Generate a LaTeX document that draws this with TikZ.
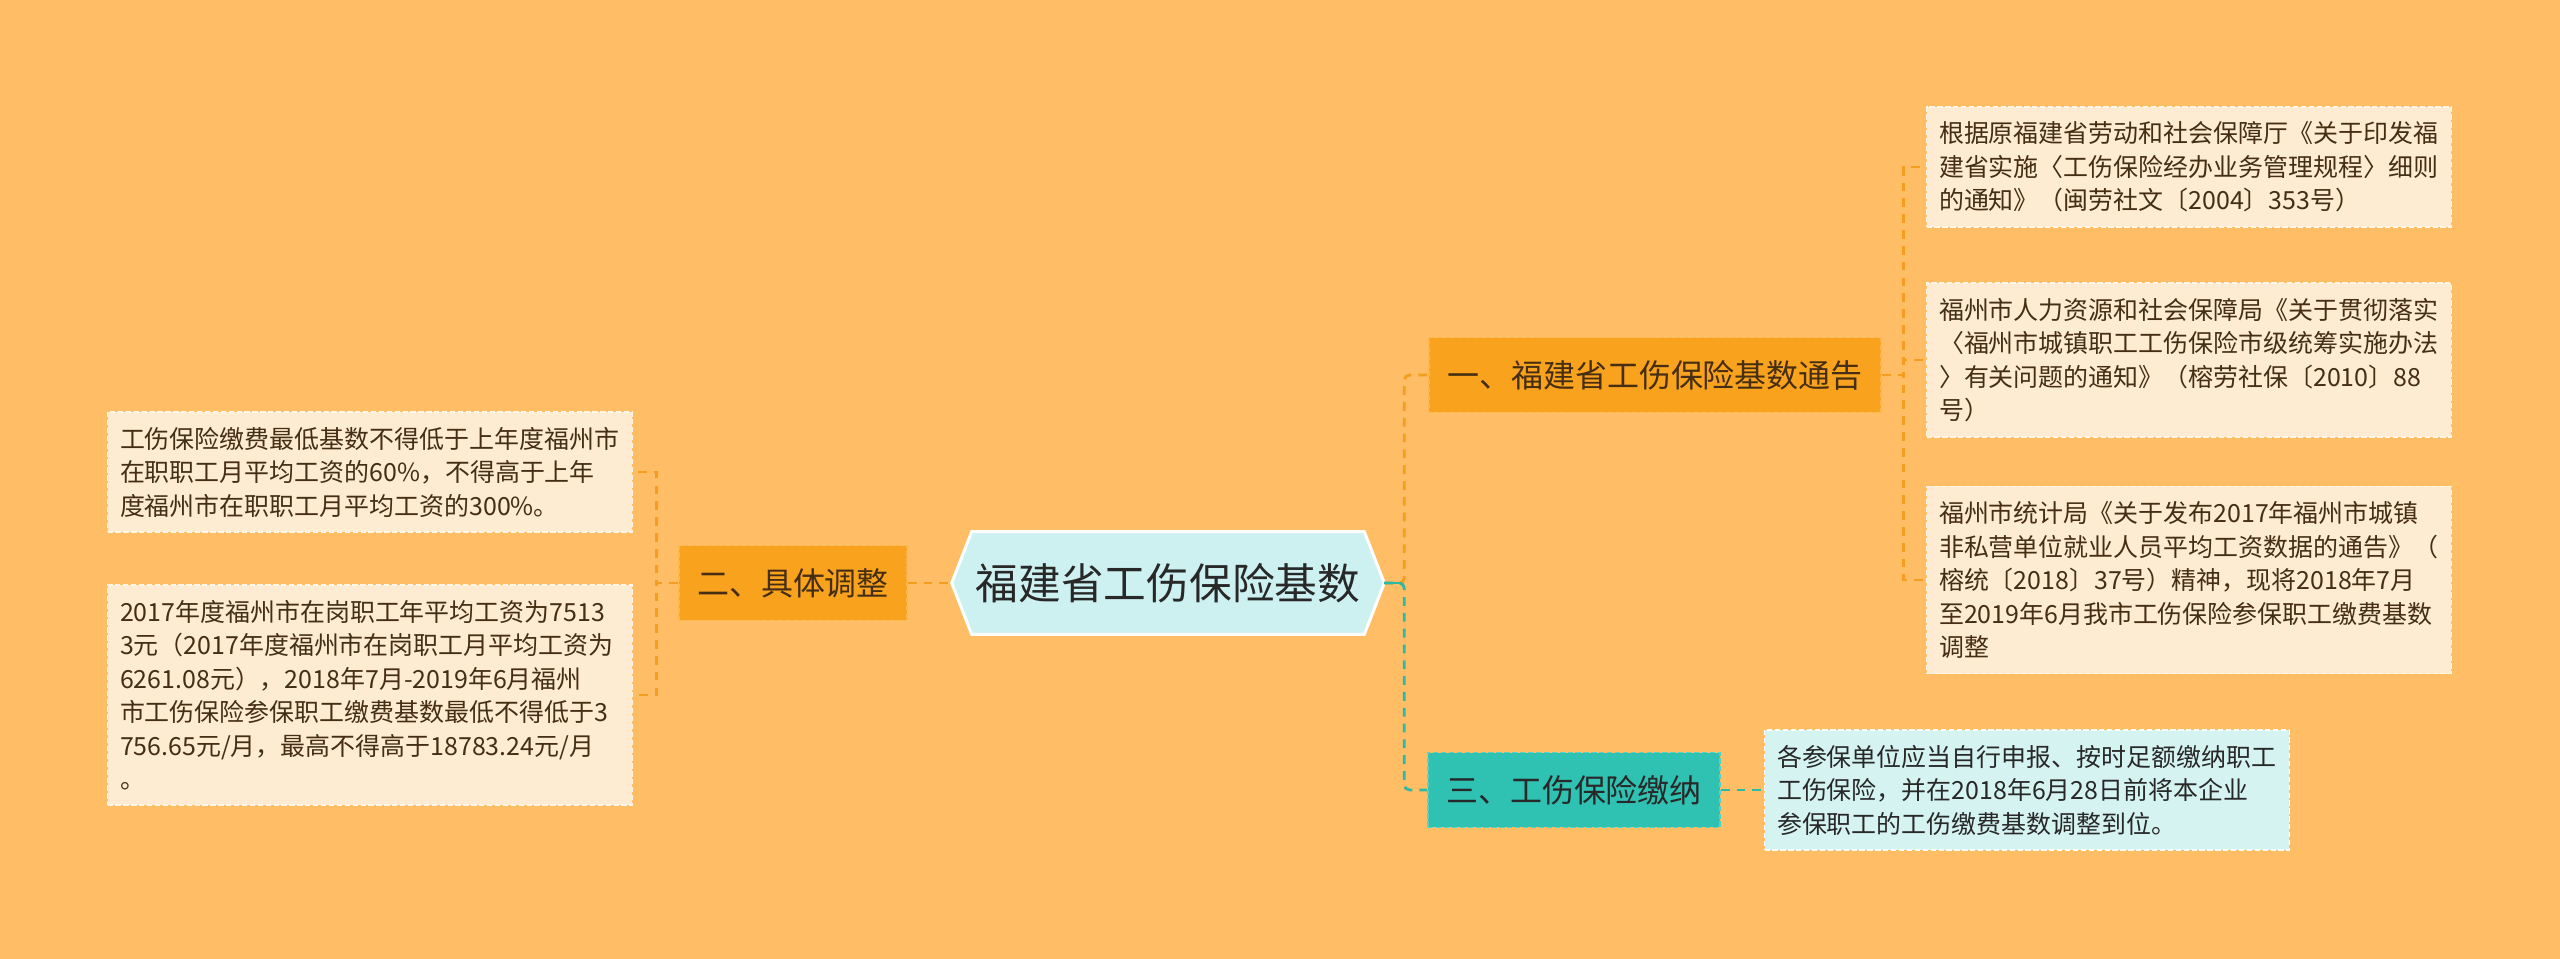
\documentclass[tikz,border=0pt]{standalone}
\usepackage{fontspec}
\setmainfont{Noto Sans CJK SC}
\usepackage{tikz}
\usepackage{xcolor}
\usetikzlibrary{
  arrows.meta, shapes.geometric,
  positioning, calc, backgrounds
}
\definecolor{PageBg}{RGB}{255,190,102}
\definecolor{BranchOrange}{RGB}{249,162,30}
\definecolor{BranchEdge}{RGB}{252,183,78}
\definecolor{LeafCream}{RGB}{253,235,210}
\definecolor{LeafEdge}{RGB}{255,246,234}
\definecolor{HubFill}{RGB}{205,241,240}
\definecolor{TealMid}{RGB}{47,193,178}
\definecolor{TealEdge}{RGB}{90,208,196}
\definecolor{TealLight}{RGB}{213,243,241}
\definecolor{LineOrange}{RGB}{245,157,30}
\definecolor{LineTeal}{RGB}{44,186,166}
\definecolor{TextBrown}{RGB}{70,46,18}
\definecolor{TextDark}{RGB}{40,40,40}

\begin{document}
\begin{tikzpicture}[x=0.02cm,y=-0.02cm,
        hubnd/.style={font=\fontsize{24.3}{29}\selectfont,text=TextDark,
                   minimum width=8.64cm,minimum height=2.04cm,inner sep=0pt},
        brnd/.style={font=\fontsize{18.2}{22}\selectfont,text=TextBrown,
                   fill=BranchOrange,draw=BranchEdge,line width=1pt,
                   dash pattern=on 3pt off 1.5pt,
                   inner xsep=0.36cm,minimum height=1.5cm},
        tlnd/.style={brnd,fill=TealMid,draw=TealEdge,text=TextDark},
        lfnd/.style={font=\fontsize{14.2}{19.07}\selectfont,text=TextBrown,
                   fill=LeafCream,draw=LeafEdge,line width=1pt,
                   dash pattern=on 3pt off 1.5pt,
                   text width=10cm,align=left,inner xsep=0.25cm,inner ysep=0.3cm},
        lftl/.style={lfnd,fill=TealLight,draw=white,text=TextDark},
        orln/.style={draw=LineOrange,line width=1.6pt,
                   dash pattern=on 5pt off 4pt,rounded corners=3pt},
        tlln/.style={orln,draw=LineTeal}
      ]
        \useasboundingbox (0,0) rectangle (2560,959);
        \begin{scope}[on background layer]
          \fill[PageBg] (0,0) rectangle (2560,959);
        \end{scope}

        % centre
        \node[hubnd] (hub) at (1168,583) {福建省工伤保险基数};
        \begin{scope}[on background layer]
          \filldraw[fill=HubFill,draw=white,line width=1.7pt]
            (hub.west) -- ($(hub.north west)+(20,0)$) -- ($(hub.north east)+(-20,0)$)
            -- (hub.east) -- ($(hub.south east)+(-20,0)$) -- ($(hub.south west)+(20,0)$)
            -- cycle;
        \end{scope}

        % branches
        \node[brnd] (b1) at (1655,375) {一、福建省工伤保险基数通告};
        \node[brnd] (b2) at (793,583) {二、具体调整};
        \node[tlnd] (b3) at (1574,790) {三、工伤保险缴纳};

        % leaves
        \node[lfnd] (l1a) at (2189,167) {根据原福建省劳动和社会保障厅《关于印发福\\
          建省实施〈工伤保险经办业务管理规程〉细则\\
          的通知》（闽劳社文〔2004〕353号）};
        \node[lfnd] (l1b) at (2189,360) {福州市人力资源和社会保障局《关于贯彻落实\\
          〈福州市城镇职工工伤保险市级统筹实施办法\\
          〉有关问题的通知》（榕劳社保〔2010〕88\\
          号）};
        \node[lfnd] (l1c) at (2189,580) {福州市统计局《关于发布2017年福州市城镇\\
          非私营单位就业人员平均工资数据的通告》（\\
          榕统〔2018〕37号）精神，现将2018年7月\\
          至2019年6月我市工伤保险参保职工缴费基数\\
          调整};
        \node[lfnd] (l2a) at (370,472) {工伤保险缴费最低基数不得低于上年度福州市\\
          在职职工月平均工资的60\%，不得高于上年\\
          度福州市在职职工月平均工资的300\%。};
        \node[lfnd] (l2b) at (370,695) {2017年度福州市在岗职工年平均工资为7513\\
          3元（2017年度福州市在岗职工月平均工资为\\
          6261.08元），2018年7月-2019年6月福州\\
          市工伤保险参保职工缴费基数最低不得低于3\\
          756.65元/月，最高不得高于18783.24元/月\\
          。};
        \node[lftl] (l3) at (2027,790) {各参保单位应当自行申报、按时足额缴纳职工\\
          工伤保险，并在2018年6月28日前将本企业\\
          参保职工的工伤缴费基数调整到位。};

        % connectors
        \draw[orln] (hub.east) -- ++(20,0) |- (b1.west);
        \draw[tlln] (hub.east) -- ++(20,0) |- (b3.west);
        \draw[LineTeal,line width=1.6pt] (hub.east) -- ++(18,0);
        \draw[orln] (b2.east) -- (hub.west);
        \draw[orln,rounded corners=0pt] (b2.west) -- ++(-22,0) |- (l2a.east);
        \draw[orln,rounded corners=0pt] (b2.west) -- ++(-22,0) |- (l2b.east);
        \draw[orln,rounded corners=0pt] (b1.east) -- ++(22,0) |- (l1a.west);
        \draw[orln,rounded corners=0pt] (b1.east) -- ++(22,0) |- (l1b.west);
        \draw[orln,rounded corners=0pt] (b1.east) -- ++(22,0) |- (l1c.west);
        \draw[tlln] (b3.east) -- (l3.west);
      \end{tikzpicture}
\end{document}
